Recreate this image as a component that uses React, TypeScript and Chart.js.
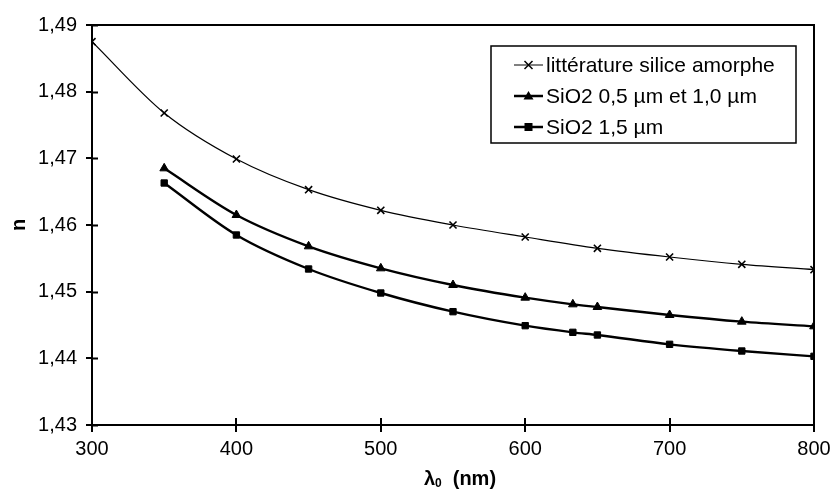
import React, { useEffect, useRef } from "react";
import { Chart, registerables } from "chart.js";
Chart.register(...registerables);

// Wavelengths (nm)
const wavelengthsLit = [300, 350, 400, 450, 500, 550, 600, 650, 700, 750, 800];
const wavelengthsSio2 = [350, 400, 450, 500, 550, 600, 633, 650, 700, 750, 800];
// Refractive index n
const nLit = [1.4875, 1.4768, 1.4699, 1.4653, 1.4622, 1.46, 1.4582, 1.4565, 1.4552, 1.4541, 1.4533];
const nSio2Thin = [1.4685, 1.4615, 1.4568, 1.4535, 1.451, 1.4491, 1.4481, 1.4477, 1.4465, 1.4455, 1.4448];
const nSio2Thick = [1.4663, 1.4585, 1.4534, 1.4498, 1.447, 1.4449, 1.4439, 1.4435, 1.4421, 1.4411, 1.4403];
const seriesLabels = ["littérature silice amorphe", "SiO2 0,5 µm et 1,0 µm", "SiO2 1,5 µm"];
const xTitleMain = "λ";
const xTitleSub = "0";
const xTitleUnit = "(nm)";
const yTitle = "n";
const xMin = 300, xMax = 800, xStep = 100;
const yMin = 1.43, yMax = 1.49, yStep = 0.01;

const FONT = "'Liberation Sans', Arial, Helvetica, sans-serif";

function drawMarker(ctx: CanvasRenderingContext2D, style: string, x: number, y: number) {
  ctx.save();
  ctx.fillStyle = "#000";
  ctx.strokeStyle = "#000";
  if (style === "crossRot") {
    const r = 4;
    ctx.lineWidth = 1.5;
    ctx.beginPath();
    ctx.moveTo(x - r, y - r); ctx.lineTo(x + r, y + r);
    ctx.moveTo(x - r, y + r); ctx.lineTo(x + r, y - r);
    ctx.stroke();
  } else if (style === "triangle") {
    const r = 5;
    ctx.beginPath();
    ctx.moveTo(x, y - r);
    ctx.lineTo(x + r, y + r * 0.7);
    ctx.lineTo(x - r, y + r * 0.7);
    ctx.closePath();
    ctx.fill();
  } else {
    const r = 4;
    ctx.fillRect(x - r, y - r, 2 * r, 2 * r);
  }
  ctx.restore();
}

const framePlugin = {
  id: "frame",
  afterDraw(chart: any) {
    const { ctx, chartArea, scales } = chart;
    const { left, right, top, bottom } = chartArea;
    ctx.save();
    ctx.strokeStyle = "#000";
    ctx.lineWidth = 2;
    ctx.strokeRect(left, top, right - left, bottom - top);
    ctx.beginPath();
    for (let v = yMin; v <= yMax + 1e-9; v += yStep) {
      const py = Math.round(scales.y.getPixelForValue(v)) + 0.5;
      ctx.moveTo(left, py);
      ctx.lineTo(left + 6, py);
    }
    for (let v = xMin; v <= xMax; v += xStep) {
      const px = Math.round(scales.x.getPixelForValue(v));
      ctx.moveTo(px, bottom);
      ctx.lineTo(px, bottom - 7);
    }
    ctx.stroke();

    // Axis titles
    ctx.fillStyle = "#000";
    ctx.textBaseline = "middle";
    ctx.textAlign = "left";
    const cx = 460;
    const ty = 479;
    ctx.font = `bold 20px ${FONT}`;
    const wL = ctx.measureText(xTitleMain).width;
    ctx.font = `bold 12px ${FONT}`;
    const wS = ctx.measureText(xTitleSub).width;
    ctx.font = `bold 20px ${FONT}`;
    const gap = 11;
    const wU = ctx.measureText(xTitleUnit).width;
    const total = wL + wS + gap + wU;
    const x0 = cx - total / 2;
    ctx.fillText(xTitleMain, x0, ty);
    ctx.font = `bold 12px ${FONT}`;
    ctx.fillText(xTitleSub, x0 + wL, ty + 5);
    ctx.font = `bold 20px ${FONT}`;
    ctx.fillText(xTitleUnit, x0 + wL + wS + gap, ty);

    ctx.save();
    ctx.translate(19, (top + bottom) / 2);
    ctx.rotate(-Math.PI / 2);
    ctx.textAlign = "center";
    ctx.font = `bold 20px ${FONT}`;
    ctx.fillText(yTitle, 0, 0);
    ctx.restore();

    // Legend box
    const bx = 491, by = 46, bw = 305, bh = 97;
    ctx.fillStyle = "#fff";
    ctx.fillRect(bx, by, bw, bh);
    ctx.strokeStyle = "#000";
    ctx.lineWidth = 1.5;
    ctx.strokeRect(bx, by, bw, bh);
    const styles = ["crossRot", "triangle", "rect"];
    const widths = [1, 2.5, 2.5];
    const rowY = [65, 96, 127];
    ctx.font = `21px ${FONT}`;
    ctx.textBaseline = "middle";
    ctx.textAlign = "left";
    for (let i = 0; i < 3; i++) {
      const yy = rowY[i];
      ctx.strokeStyle = "#000";
      ctx.lineWidth = widths[i];
      ctx.beginPath();
      ctx.moveTo(514, yy);
      ctx.lineTo(543, yy);
      ctx.stroke();
      drawMarker(ctx, styles[i], 528.5, yy);
      ctx.fillStyle = "#000";
      ctx.fillText(seriesLabels[i], 546, yy + 1);
    }
    ctx.restore();
  },
};

export default function App() {
  const canvasRef = useRef<HTMLCanvasElement | null>(null);

  useEffect(() => {
    document.body.style.margin = "0";
    const canvas = canvasRef.current;
    if (!canvas) return;
    const mk = (xs: number[], ys: number[]) => xs.map((x, i) => ({ x, y: ys[i] }));
    const chart = new Chart(canvas, {
      type: "line",
      data: {
        datasets: [
          {
            label: seriesLabels[0],
            data: mk(wavelengthsLit, nLit),
            borderColor: "#000",
            backgroundColor: "#000",
            borderWidth: 1.2,
            pointStyle: "crossRot",
            pointRadius: 5,
            pointBorderWidth: 1.6,
            cubicInterpolationMode: "monotone",
          },
          {
            label: seriesLabels[1],
            data: mk(wavelengthsSio2, nSio2Thin),
            borderColor: "#000",
            backgroundColor: "#000",
            borderWidth: 2.4,
            pointStyle: "triangle",
            pointRadius: 5,
            pointBorderWidth: 1,
            cubicInterpolationMode: "monotone",
          },
          {
            label: seriesLabels[2],
            data: mk(wavelengthsSio2, nSio2Thick),
            borderColor: "#000",
            backgroundColor: "#000",
            borderWidth: 2.4,
            pointStyle: "rect",
            pointRadius: 4.5,
            pointBorderWidth: 1,
            cubicInterpolationMode: "monotone",
          },
        ],
      },
      options: {
        responsive: false,
        animation: false,
        layout: { padding: { left: 0, top: 25, right: 23, bottom: 0 } },
        plugins: { legend: { display: false }, tooltip: { enabled: false } },
        scales: {
          x: {
            type: "linear",
            min: xMin,
            max: xMax,
            afterFit: (s: any) => { s.height = 68; },
            afterBuildTicks: (s: any) => {
              const t = [];
              for (let v = xMin; v <= xMax; v += xStep) t.push({ value: v });
              s.ticks = t;
            },
            ticks: {
              color: "#000",
              font: { family: FONT, size: 20 },
              padding: 5,
              maxRotation: 0,
              callback: (v: any) => String(v),
            },
            grid: { display: true, drawOnChartArea: false, drawTicks: true, tickLength: 7, color: "#000", lineWidth: 2 },
            border: { display: true, color: "#000", width: 2 },
          },
          y: {
            type: "linear",
            min: yMin,
            max: yMax,
            afterFit: (s: any) => { s.width = 92; },
            afterBuildTicks: (s: any) => {
              const t = [];
              for (let i = 0; i <= Math.round((yMax - yMin) / yStep); i++) t.push({ value: +(yMin + i * yStep).toFixed(2) });
              s.ticks = t;
            },
            ticks: {
              color: "#000",
              font: { family: FONT, size: 20 },
              padding: 9,
              callback: (v: any) => Number(v).toFixed(2).replace(".", ","),
            },
            grid: { display: true, drawOnChartArea: false, drawTicks: true, tickLength: 6, color: "#000", lineWidth: 2 },
            border: { display: true, color: "#000", width: 2 },
          },
        },
      },
      plugins: [framePlugin],
    });
    return () => chart.destroy();
  }, []);

  return (
    <div style={{ position: "absolute", left: 0, top: 0, width: 837, height: 493, background: "#fff" }}>
      <canvas ref={canvasRef} width={837} height={493} style={{ display: "block" }} />
    </div>
  );
}
